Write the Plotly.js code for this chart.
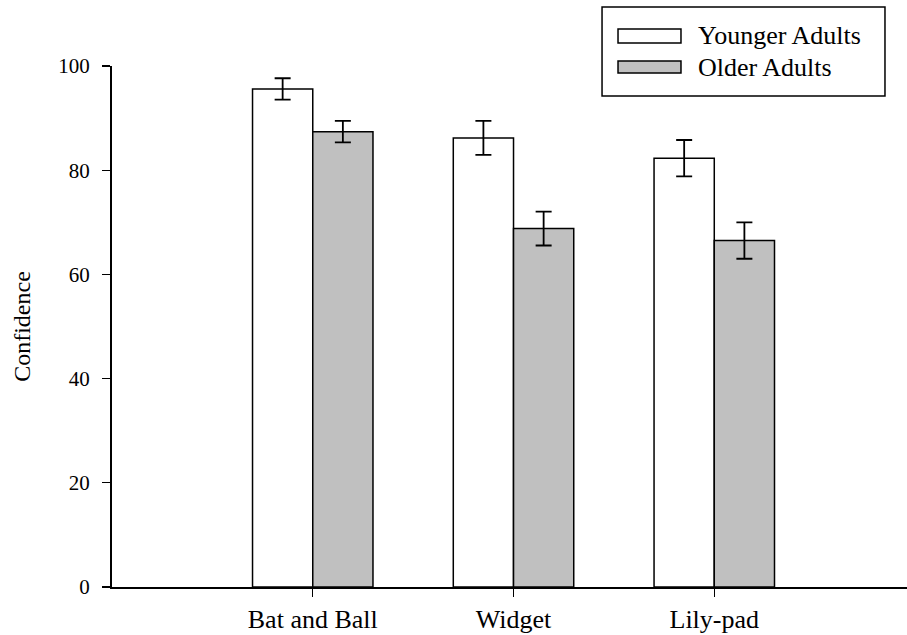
<!DOCTYPE html>
<html>
<head>
<meta charset="utf-8">
<script src="https://cdn.plot.ly/plotly-3.0.1.min.js"></script>
<style>html,body{margin:0;padding:0;background:#fff;}#chart{width:907px;height:635px;}</style>
</head>
<body>
<div id="chart"></div>
<script>
var categories = ["Bat and Ball", "Widget", "Lily-pad"];
var seriesNames = ["Younger Adults", "Older Adults"];
var youngerValues = [95.6, 86.2, 82.3];
var youngerErrors = [2.05, 3.25, 3.5];
var olderValues = [87.4, 68.8, 66.5];
var olderErrors = [2.05, 3.25, 3.5];
var yTickValues = [0, 20, 40, 60, 80, 100];

var FONT = '"Liberation Serif", "Times New Roman", Times, serif';

var errStyle = {type: 'data', visible: true, color: '#000', thickness: 1.8, width: 8};

var traces = [
  {
    type: 'bar', name: seriesNames[0], x: categories, y: youngerValues,
    marker: {color: '#ffffff', line: {color: '#000', width: 1.5}},
    error_y: Object.assign({array: youngerErrors}, errStyle),
    hoverinfo: 'x+y'
  },
  {
    type: 'bar', name: seriesNames[1], x: categories, y: olderValues,
    marker: {color: '#c0c0c0', line: {color: '#000', width: 1.5}},
    error_y: Object.assign({array: olderErrors}, errStyle),
    hoverinfo: 'x+y'
  }
];

// custom legend (paper coordinates)
var shapes = [
  {type: 'rect', xref: 'paper', yref: 'paper', x0: 0.6164, x1: 0.9723, y0: 0.9424, y1: 1.1132,
   line: {color: '#000', width: 1.5}, fillcolor: 'rgba(0,0,0,0)'},
  {type: 'rect', xref: 'paper', yref: 'paper', x0: 0.6365, x1: 0.7157, y0: 1.0441, y1: 1.071,
   line: {color: '#000', width: 1.5}, fillcolor: '#ffffff'},
  {type: 'rect', xref: 'paper', yref: 'paper', x0: 0.6365, x1: 0.7157, y0: 0.9866, y1: 1.0096,
   line: {color: '#000', width: 1.5}, fillcolor: '#c0c0c0'}
];
var annotations = [
  {xref: 'paper', yref: 'paper', x: 0.7346, y: 1.0576, xanchor: 'left', yanchor: 'middle',
   text: seriesNames[0], showarrow: false, font: {family: FONT, size: 26, color: '#000'}},
  {xref: 'paper', yref: 'paper', x: 0.7346, y: 0.998, xanchor: 'left', yanchor: 'middle',
   text: seriesNames[1], showarrow: false, font: {family: FONT, size: 26, color: '#000'}}
];

var layout = {
  width: 907, height: 635,
  margin: {l: 112, r: 0, t: 66, b: 48, pad: 0},
  paper_bgcolor: '#fff', plot_bgcolor: '#fff',
  showlegend: false,
  barmode: 'group', bargap: 0.4, bargroupgap: 0,
  font: {family: FONT, color: '#000'},
  xaxis: {
    type: 'category', range: [-1, 2.96], showgrid: false, zeroline: false,
    showline: true, linecolor: '#000', linewidth: 2,
    ticks: 'outside', ticklen: 8, tickwidth: 1.2, tickcolor: '#000',
    tickfont: {family: FONT, size: 26, color: '#000'},
    ticklabelstandoff: 0
  },
  yaxis: {
    range: [0, 100], tickvals: yTickValues, showgrid: false, zeroline: false,
    showline: true, linecolor: '#000', linewidth: 2,
    ticks: 'outside', ticklen: 8, tickwidth: 1.2, tickcolor: '#000',
    tickfont: {family: FONT, size: 21, color: '#000'},
    ticklabelstandoff: 8,
    title: {text: 'Confidence', font: {family: FONT, size: 24, color: '#000'}, standoff: 21}
  },
  shapes: shapes,
  annotations: annotations
};

Plotly.newPlot('chart', traces, layout, {displayModeBar: false, staticPlot: true});
</script>
</body>
</html>
